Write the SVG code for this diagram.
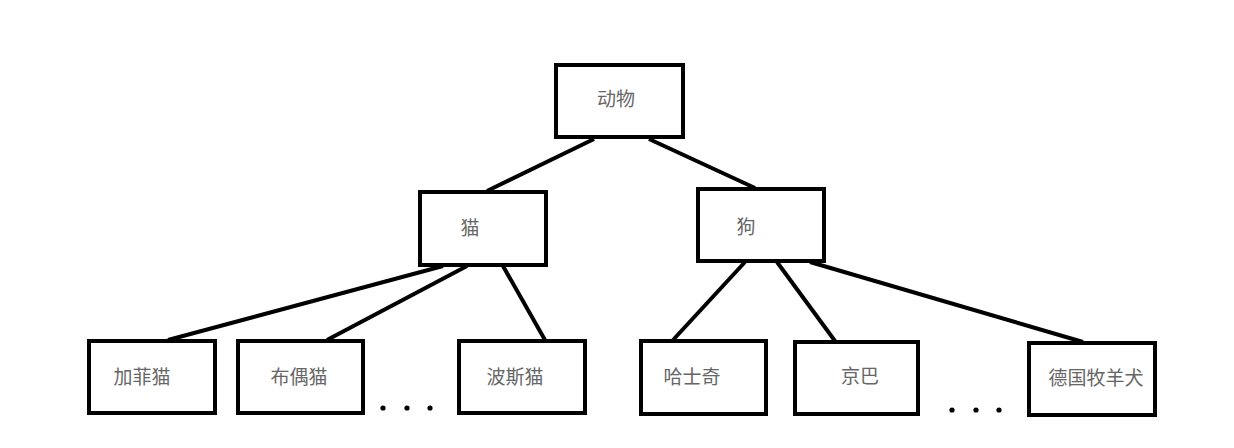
<svg xmlns="http://www.w3.org/2000/svg" width="1234" height="448" viewBox="0 0 1234 448">
<style>
.box{fill:#fff;stroke:#000;stroke-width:4}
.lbl{font-family:"Noto Sans CJK SC","Noto Sans CJK JP",sans-serif;font-size:19px;fill:#666;text-anchor:middle;dominant-baseline:central}
.edge{stroke:#000;stroke-width:4;stroke-linecap:butt;fill:none}
.dot{fill:#000}
</style>
<rect width="1234" height="448" fill="#fff"/>
<g id="connectors">
<line class="edge" x1="594" y1="139" x2="487" y2="191"/>
<line class="edge" x1="649" y1="139" x2="755" y2="188"/>
<line class="edge" x1="443" y1="266" x2="168" y2="340"/>
<line class="edge" x1="467" y1="266" x2="327" y2="340"/>
<line class="edge" x1="503" y1="266" x2="545" y2="340"/>
<line class="edge" x1="745" y1="262" x2="673" y2="340"/>
<line class="edge" x1="777" y1="262" x2="835" y2="341"/>
<line class="edge" x1="810" y1="262" x2="1083" y2="342"/>
</g>
<g id="n-animal"><rect class="box" x="556" y="65" width="127" height="72"/><text class="lbl" x="616" y="97">动物</text></g>
<g id="n-cat"><rect class="box" x="420" y="192" width="126" height="73"/><text class="lbl" x="470" y="226">猫</text></g>
<g id="n-dog"><rect class="box" x="698" y="189" width="126" height="72"/><text class="lbl" x="746" y="225">狗</text></g>
<g id="n-garfield"><rect class="box" x="89" y="341" width="126" height="72"/><text class="lbl" x="142" y="375">加菲猫</text></g>
<g id="n-ragdoll"><rect class="box" x="238" y="341" width="125" height="72"/><text class="lbl" x="299" y="375">布偶猫</text></g>
<g id="n-persian"><rect class="box" x="459" y="341" width="126" height="72"/><text class="lbl" x="515" y="375">波斯猫</text></g>
<g id="n-husky"><rect class="box" x="641" y="341" width="125" height="73"/><text class="lbl" x="692" y="375">哈士奇</text></g>
<g id="n-pekingese"><rect class="box" x="795" y="342" width="123" height="72"/><text class="lbl" x="860" y="374">京巴</text></g>
<g id="n-shepherd"><rect class="box" x="1029" y="343" width="126" height="72"/><text class="lbl" x="1096" y="376">德国牧羊犬</text></g>
<g id="ellipsis-left"><circle class="dot" cx="383" cy="408" r="2.6"/><circle class="dot" cx="407" cy="408" r="2.6"/><circle class="dot" cx="430" cy="408" r="2.6"/></g>
<g id="ellipsis-right"><circle class="dot" cx="952" cy="410" r="2.6"/><circle class="dot" cx="976" cy="410" r="2.6"/><circle class="dot" cx="999" cy="410" r="2.6"/></g>
</svg>
